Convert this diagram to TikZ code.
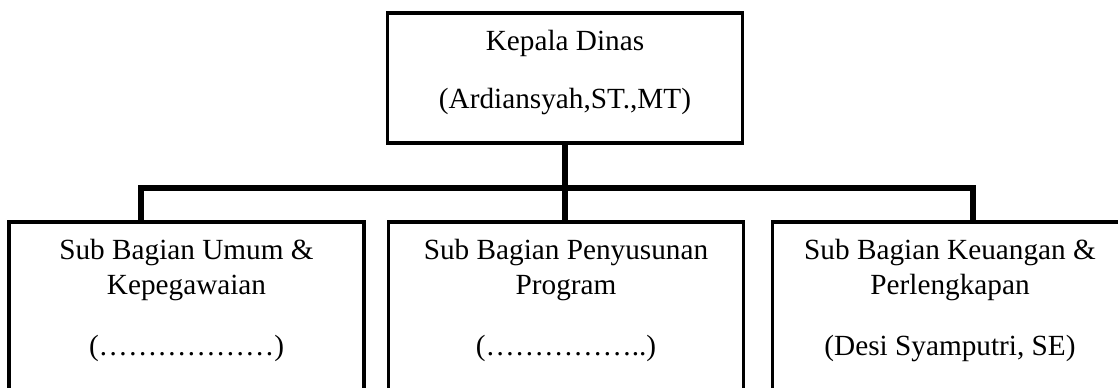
\documentclass[tikz,border=0pt]{standalone}
\usepackage{fontspec}
\setmainfont{Liberation Serif}
\usetikzlibrary{positioning}

\begin{document}
\begin{tikzpicture}[x=0.4pt,y=-0.4pt,
      box/.style={draw,line width=1.4pt,minimum width=142pt,inner sep=0pt},
      label/.style={inner sep=0pt,align=center,font=\fontsize{11.7}{14}\selectfont},
      link/.style={line width=2.3pt}]
      \clip (0,0) rectangle (1118,387);
      % boxes
      \node[box,minimum height=52pt] (kepala) at (565,78) {};
      \node[box,minimum height=71.2pt] (umum) at (186.5,311) {};
      \node[box,minimum height=71.2pt] (program) at (566,311) {};
      \node[box,minimum height=71.2pt] (keuangan) at (950,311) {};
      % texts
      \node[label] (kepalaT) at (565,43) {Kepala Dinas};
      \node[label] (kepalaN) at (565,102) {(Ardiansyah,ST.,MT)};
      \node[label] (umumT) at (186.5,270.5) {Sub Bagian Umum \&\\Kepegawaian};
      \node[label] (umumN) at (186.5,348) {(………………)};
      \node[label] (programT) at (566,270.5) {Sub Bagian Penyusunan\\Program};
      \node[label] (programN) at (566,348) {(……………..)};
      \node[label] (keuanganT) at (950,270.5) {Sub Bagian Keuangan \&\\Perlengkapan};
      \node[label] (keuanganN) at (950,348) {(Desi Syamputri, SE)};
      % connectors
      \coordinate (jl) at (141,188);
      \coordinate (jr) at (973,188);
      \draw[link] (kepala.south) -- (kepala.south |- program.north);
      \draw[link] (jl |- umum.north) -- (jl) -- (jr) -- (jr |- keuangan.north);
\end{tikzpicture}
\end{document}
